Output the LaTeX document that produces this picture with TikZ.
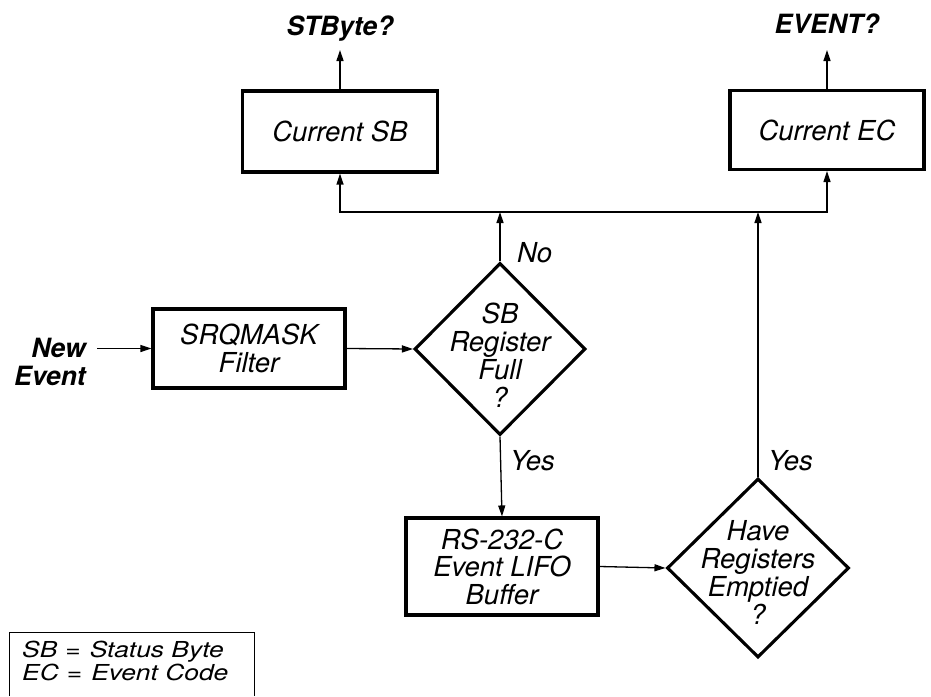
\documentclass[tikz,border=0pt]{standalone}
\usepackage{fontspec}
\setmainfont{TeX Gyre Heros}
\newfontfamily\legendfont[FakeStretch=1.2]{TeX Gyre Heros}
\usetikzlibrary{shapes.geometric,arrows.meta}
\newcommand\mainfs{\fontsize{27.5}{27.5}\selectfont\itshape}
\newcommand\diafs{\fontsize{27.5}{28}\selectfont\itshape}
\newcommand\boldfs{\fontsize{26.5}{28}\selectfont\bfseries\itshape}
\begin{document}
\begin{tikzpicture}[x=1pt,y=-1pt,
  box/.style={draw, line width=3.1pt, rectangle, inner sep=0pt, font=\mainfs, align=center},
  dec/.style={draw, line width=3.1pt, diamond, inner sep=0pt},
  dtxt/.style={inner sep=0pt, font=\diafs, align=center},
  lbl/.style={inner sep=0pt, font=\mainfs, anchor=base west},
  bl/.style={inner sep=0pt, font=\boldfs},
  arr/.style={line width=1.3pt, -{Triangle[length=11pt,width=7pt]}},
  darr/.style={line width=1.3pt, {Triangle[length=11pt,width=7pt]}-{Triangle[length=11pt,width=7pt]}}]
\fill[white] (0,0) rectangle (931,696);
\useasboundingbox (0,0) rectangle (931,696);

% boxes
\node[box, minimum width=195pt, minimum height=81pt] (sb) at (340,131.5) {Current SB};
\node[box, minimum width=194pt, minimum height=79pt] (ec) at (827,130) {Current EC};
\node[box, minimum width=192pt, minimum height=79pt] (srq) at (249,348.5) {SRQMASK\\Filter};
\node[box, minimum width=192pt, minimum height=97pt] (rs) at (502,566.5) {RS-232-C\\Event LIFO\\Buffer};

% decisions
\node[dec, minimum width=171pt, minimum height=172pt] (d1) at (500,349) {};
\node[dtxt] (d1t) at (500,355) {SB\\Register\\Full\\?};
\node[dec, minimum width=182pt, minimum height=179pt] (d2) at (758,568) {};
\node[dtxt] (d2t) at (758,572) {Have\\Registers\\Emptied\\?};

% outside texts
\node[bl, anchor=base] (stb) at (340,35) {STByte?};
\node[bl, anchor=base] (evq) at (827,33) {EVENT?};
\node[bl, align=right, anchor=east] (new) at (86,362) {New\\Event};
\coordinate (stbtip) at (340,50);
\coordinate (evtip) at (827,50);

% labels
\node[lbl] (no) at (517,262) {No};
\node[lbl] (yes1) at (510,470) {Yes};
\node[lbl] (yes2) at (768,470) {Yes};

% connectors
\coordinate (bus) at (0,212);
\draw[darr] (sb.south) -- (sb.south |- bus) -- (ec.south |- bus) -- (ec.south);
\draw[arr] (d1.north) -- (d1.north |- bus);
\draw[arr] (d2.north) -- (d2.north |- bus);
\draw[arr] (sb.north) -- (stbtip);
\draw[arr] (ec.north) -- (evtip);
\draw[arr] ([xshift=11pt]new.east |- srq.west) -- (srq.west);
\draw[arr] (srq.east) -- (d1.west);
\draw[arr] (d1.south) -- (rs.north);
\draw[arr] (rs.east) -- (d2.west);

% legend
\node[minimum width=244pt, minimum height=63pt, inner sep=0pt] (leg) at (132,664.5) {};
\draw[line width=1.2pt] (leg.south west) |- (leg.north east) -- (leg.south east);
\node[anchor=west, align=left, inner sep=0pt, font=\legendfont\fontsize{22}{21}\selectfont\itshape] (legt) at (22,661) {SB\hspace{8pt}=\hspace{9pt}Status Byte\\EC\hspace{8pt}=\hspace{9pt}Event Code};
\end{tikzpicture}
\end{document}
